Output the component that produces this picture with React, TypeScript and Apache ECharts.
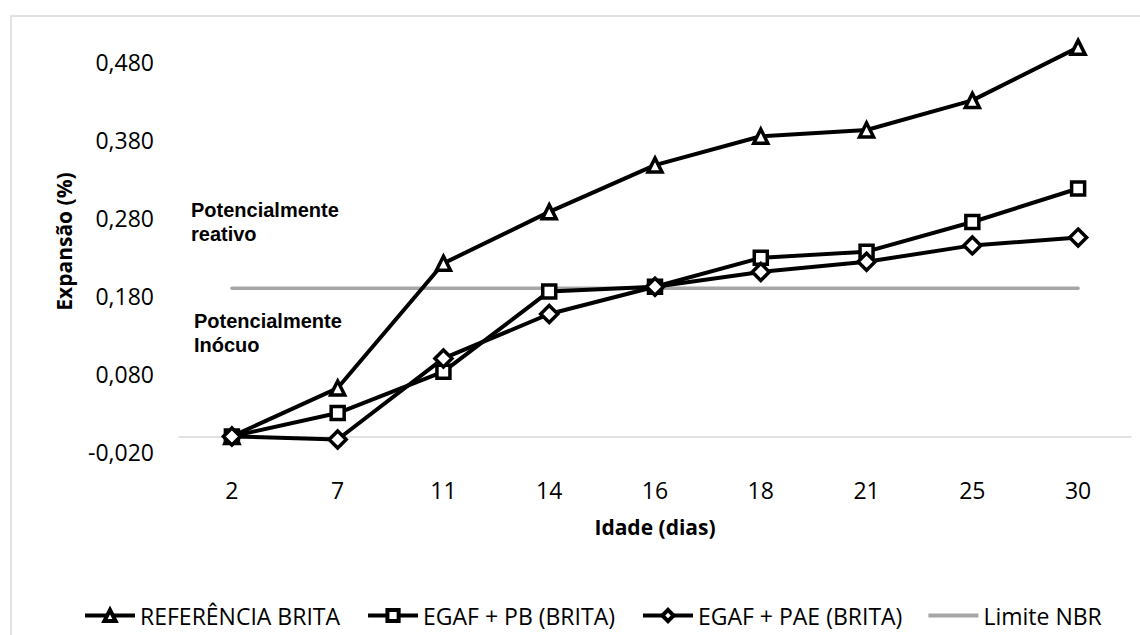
import React, { useEffect, useRef } from "react";
import * as echarts from "echarts";

const categories = ["2", "7", "11", "14", "16", "18", "21", "25", "30"];
const referenciaBrita = [0, 0.062, 0.222, 0.288, 0.348, 0.385, 0.393, 0.431, 0.499];
const egafPb = [0, 0.03, 0.083, 0.186, 0.192, 0.229, 0.237, 0.275, 0.318];
const egafPae = [0, -0.004, 0.1, 0.157, 0.192, 0.211, 0.224, 0.245, 0.255];
const limiteNbr = [0.19, 0.19, 0.19, 0.19, 0.19, 0.19, 0.19, 0.19, 0.19];

const seriesNames = ["REFERÊNCIA BRITA", "EGAF + PB (BRITA)", "EGAF + PAE (BRITA)", "Limite NBR"];
const annotationUpper = "Potencialmente\nreativo";
const annotationLower = "Potencialmente\nInócuo";
const yAxisTitle = "Expansão (%)";
const xAxisTitle = "Idade (dias)";

const FONT = "'Open Sans', 'DejaVu Sans', sans-serif";
const ARIAL = "'Liberation Sans', Arial, sans-serif";

export default function App() {
  const ref = useRef<HTMLDivElement>(null);

  useEffect(() => {
    if (!ref.current) return;
    const chart = echarts.init(ref.current, null, { renderer: "svg" });

    const blackLine = (name: string, data: number[], symbol: string, size: number) => ({
      name,
      type: "line",
      data,
      symbol,
      symbolSize: size,
      showAllSymbol: true,
      z: 3,
      lineStyle: { color: "#000", width: 4 },
      itemStyle: { color: "#fff", borderColor: "#000", borderWidth: 3.5 },
      emphasis: { disabled: true },
    });

    const legendBlack = (name: string) => ({
      name,
      itemStyle: { color: "#fff", borderColor: "#000", borderWidth: 4 },
      lineStyle: { color: "#000", width: 4 },
    });

    chart.setOption({
      animation: false,
      backgroundColor: "#fff",
      textStyle: { fontFamily: FONT },
      grid: { left: 179, right: 9, top: 31, bottom: 183, containLabel: false },
      xAxis: {
        type: "category",
        data: categories,
        boundaryGap: true,
        name: xAxisTitle,
        nameLocation: "middle",
        nameGap: 64,
        nameTextStyle: { fontFamily: FONT, fontSize: 21, fontWeight: "bold", color: "#000" },
        axisLine: { show: true, onZero: true, lineStyle: { color: "#d9d9d9", width: 1.5 } },
        axisTick: { show: false },
        axisLabel: { fontFamily: FONT, fontSize: 23, color: "#000", margin: 26 },
        splitLine: { show: false },
      },
      yAxis: {
        type: "value",
        min: -0.02,
        max: 0.52,
        interval: 0.1,
        name: yAxisTitle,
        nameLocation: "middle",
        nameGap: 105,
        nameRotate: 90,
        nameTextStyle: { fontFamily: FONT, fontSize: 21, fontWeight: "bold", color: "#000" },
        axisLine: { show: false },
        axisTick: { show: false },
        splitLine: { show: false },
        axisLabel: {
          fontFamily: FONT,
          fontSize: 23,
          color: "#000",
          margin: 25,
          showMaxLabel: false,
          formatter: (v: number) => v.toFixed(3).replace(".", ","),
        },
      },
      legend: {
        data: [
          legendBlack(seriesNames[0]),
          legendBlack(seriesNames[1]),
          legendBlack(seriesNames[2]),
          {
            name: seriesNames[3],
            icon: "path://M0,0 L50,0 L50,4 L0,4 Z",
            itemStyle: { color: "#a6a6a6" },
          },
        ],
        left: 78,
        top: 599,
        itemWidth: 50,
        itemHeight: 14,
        itemGap: 26,
        textStyle: { fontFamily: FONT, fontSize: 23, color: "#000" },
      },
      graphic: [
        {
          type: "rect",
          shape: { x: 11, y: 16, width: 1300, height: 800 },
          style: { fill: "none", stroke: "#d9d9d9", lineWidth: 1.5 },
          silent: true,
          z: -10,
        },
        {
          type: "text",
          x: 191,
          y: 198,
          style: {
            text: annotationUpper,
            font: `bold 20px ${ARIAL}`,
            fill: "#000",
            lineHeight: 24,
            verticalAlign: "top",
            align: "left",
          },
          silent: true,
        },
        {
          type: "text",
          x: 194,
          y: 309,
          style: {
            text: annotationLower,
            font: `bold 20px ${ARIAL}`,
            fill: "#000",
            lineHeight: 24,
            verticalAlign: "top",
            align: "left",
          },
          silent: true,
        },
      ],
      series: [
        blackLine(seriesNames[0], referenciaBrita, "triangle", 14),
        blackLine(seriesNames[1], egafPb, "rect", 13),
        blackLine(seriesNames[2], egafPae, "diamond", 17),
        {
          name: seriesNames[3],
          type: "line",
          data: limiteNbr,
          symbol: "none",
          z: 1,
          lineStyle: { color: "#a6a6a6", width: 3.5, cap: "round" },
          itemStyle: { color: "#a6a6a6" },
          emphasis: { disabled: true },
        },
      ],
    });

    return () => chart.dispose();
  }, []);

  return (
    <div
      ref={ref}
      style={{ width: 1140, height: 635, position: "absolute", left: 0, top: 0 }}
    />
  );
}
